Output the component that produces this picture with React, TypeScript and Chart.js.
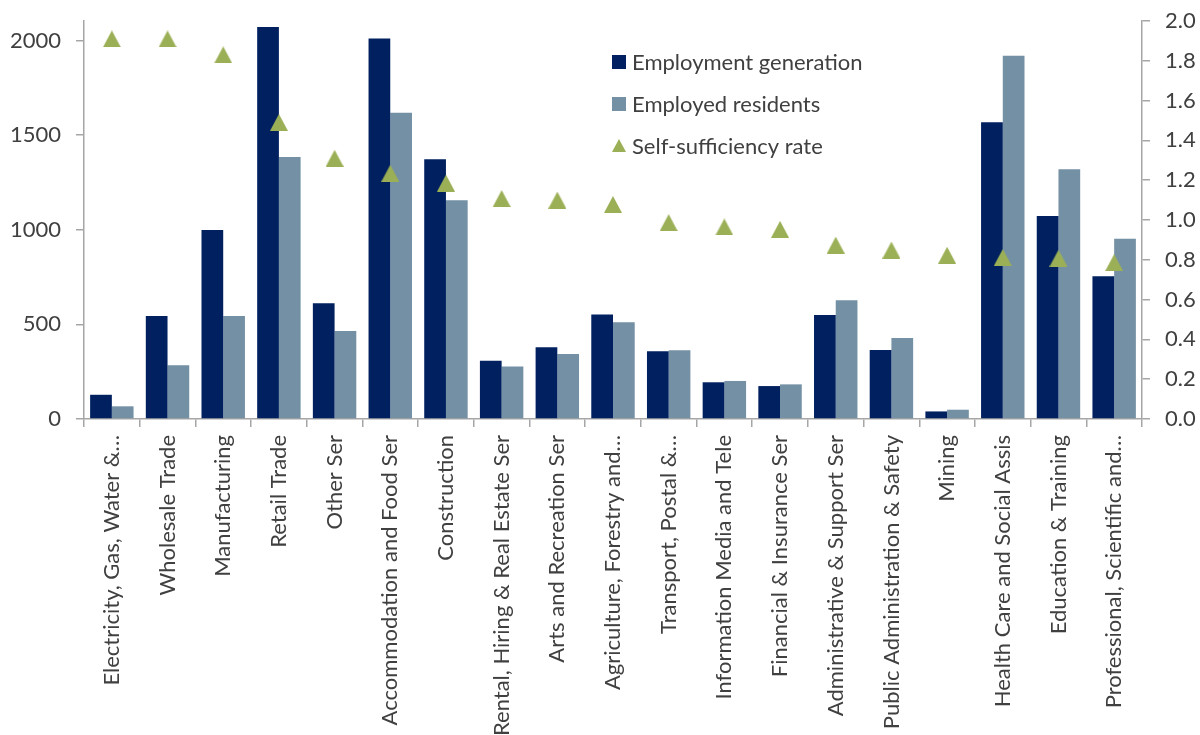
import React, { useEffect, useRef } from "react";
import { Chart, registerables } from "chart.js";

Chart.register(...registerables);

const categories: string[] = [
  "Electricity, Gas, Water &…",
  "Wholesale Trade",
  "Manufacturing",
  "Retail Trade",
  "Other Ser",
  "Accommodation and Food Ser",
  "Construction",
  "Rental, Hiring & Real Estate Ser",
  "Arts and Recreation Ser",
  "Agriculture, Forestry and…",
  "Transport, Postal &…",
  "Information Media and Tele",
  "Financial & Insurance Ser",
  "Administrative & Support Ser",
  "Public Administration & Safety",
  "Mining",
  "Health Care and Social Assis",
  "Education & Training",
  "Professional, Scientific and…",
];

const employmentGeneration: number[] = [
  128, 544, 999, 2071, 612, 2011, 1373, 308, 379, 552, 358, 194, 174, 550, 365, 40, 1568, 1073, 754,
];

const employedResidents: number[] = [
  67, 284, 544, 1385, 465, 1618, 1156, 278, 344, 511, 363, 201, 183, 627, 428, 49, 1919, 1320, 953,
];

const selfSufficiencyRate: number[] = [
  1.91, 1.91, 1.83, 1.49, 1.31, 1.235, 1.185, 1.108, 1.1, 1.078, 0.987, 0.965, 0.953, 0.874, 0.849, 0.823, 0.812, 0.808, 0.786,
];

const leftTicks: number[] = [0, 500, 1000, 1500, 2000];
const rightTicks: number[] = [0, 0.2, 0.4, 0.6, 0.8, 1.0, 1.2, 1.4, 1.6, 1.8, 2.0];

const seriesNames: string[] = ["Employment generation", "Employed residents", "Self-sufficiency rate"];

const NAVY = "#002060";
const SLATE = "#7490A5";
const OLIVE = "#9BB056";
const TEXT = "#404040";
const AXIS = "#A6A6A6";
const FONT = "Lato";

function makeTriangle(w: number, h: number): HTMLCanvasElement {
  const c = document.createElement("canvas");
  c.width = w;
  c.height = h;
  const ctx = c.getContext("2d")!;
  ctx.fillStyle = OLIVE;
  ctx.beginPath();
  ctx.moveTo(w / 2, 0);
  ctx.lineTo(w, h);
  ctx.lineTo(0, h);
  ctx.closePath();
  ctx.fill();
  return c;
}

const legendPlugin = {
  id: "customLegend",
  afterDraw(chart: any) {
    const ctx = chart.ctx;
    const x0 = 612;
    const rows = [62, 104, 146];
    ctx.save();
    ctx.font = `22px ${FONT}`;
    ctx.textBaseline = "middle";
    ctx.textAlign = "left";
    rows.forEach((cy, i) => {
      if (i < 2) {
        ctx.fillStyle = i === 0 ? NAVY : SLATE;
        ctx.fillRect(x0, cy - 7, 14, 14);
      } else {
        ctx.fillStyle = OLIVE;
        ctx.beginPath();
        ctx.moveTo(x0 + 7, cy - 7);
        ctx.lineTo(x0 + 14, cy + 6);
        ctx.lineTo(x0, cy + 6);
        ctx.closePath();
        ctx.fill();
      }
      ctx.fillStyle = TEXT;
      ctx.fillText(seriesNames[i], x0 + 20, cy + 1);
    });
    ctx.restore();
  },
};

export default function App() {
  const ref = useRef<HTMLCanvasElement | null>(null);

  useEffect(() => {
    if (!ref.current) return;
    const tri = makeTriangle(18, 17);
    const tickFont = { family: FONT, size: 22 };
    const chart = new Chart(ref.current, {
      type: "bar",
      data: {
        labels: categories,
        datasets: [
          {
            type: "line",
            label: seriesNames[2],
            data: selfSufficiencyRate,
            yAxisID: "y1",
            showLine: false,
            pointStyle: tri as any,
            pointRadius: 9,
            backgroundColor: OLIVE,
            borderColor: OLIVE,
            order: 0,
          } as any,
          {
            label: seriesNames[0],
            data: employmentGeneration,
            backgroundColor: NAVY,
            yAxisID: "y",
            categoryPercentage: 0.78,
            barPercentage: 1.0,
            order: 1,
          },
          {
            label: seriesNames[1],
            data: employedResidents,
            backgroundColor: SLATE,
            yAxisID: "y",
            categoryPercentage: 0.78,
            barPercentage: 1.0,
            order: 1,
          },
        ],
      },
      options: {
        responsive: false,
        animation: false,
        devicePixelRatio: 1,
        layout: { padding: { top: 21, left: 0, right: 0, bottom: 0 } },
        plugins: {
          legend: { display: false },
          tooltip: { enabled: false },
        },
        scales: {
          x: {
            offset: true,
            grid: {
              offset: true,
              drawOnChartArea: false,
              drawTicks: true,
              tickLength: 8,
              color: AXIS,
              lineWidth: 1.5,
            },
            border: { display: true, color: AXIS, width: 1.5 },
            ticks: {
              autoSkip: false,
              minRotation: 90,
              maxRotation: 90,
              padding: 8,
              color: TEXT,
              font: tickFont,
            },
            afterFit(scale: any) {
              scale.height = 316;
            },
          },
          y: {
            position: "left",
            min: 0,
            max: 2103,
            grid: {
              drawOnChartArea: false,
              drawTicks: true,
              tickLength: 8,
              color: AXIS,
              lineWidth: 1.5,
            },
            border: { display: true, color: AXIS, width: 1.5 },
            ticks: {
              padding: 15,
              color: TEXT,
              font: tickFont,
              callback: (v: any) => String(v),
            },
            afterBuildTicks(scale: any) {
              scale.ticks = leftTicks.map((v) => ({ value: v }));
            },
            afterFit(scale: any) {
              scale.width = 84;
              scale.paddingTop = 12;
              scale.paddingBottom = 12;
            },
          },
          y1: {
            position: "right",
            min: 0,
            max: 2,
            grid: {
              drawOnChartArea: false,
              drawTicks: true,
              tickLength: 8,
              color: AXIS,
              lineWidth: 1.5,
            },
            border: { display: true, color: AXIS, width: 1.5 },
            ticks: {
              padding: 15,
              color: TEXT,
              font: tickFont,
              callback: (v: any) => Number(v).toFixed(1),
            },
            afterBuildTicks(scale: any) {
              scale.ticks = rightTicks.map((v) => ({ value: v }));
            },
            afterFit(scale: any) {
              scale.width = 58;
              scale.paddingTop = 12;
              scale.paddingBottom = 12;
            },
          },
        },
      },
      plugins: [legendPlugin],
    });
    return () => chart.destroy();
  }, []);

  return (
    <div style={{ position: "absolute", left: 0, top: 0, width: 1200, height: 735, background: "#fff" }}>
      <canvas ref={ref} width={1200} height={735} />
    </div>
  );
}
